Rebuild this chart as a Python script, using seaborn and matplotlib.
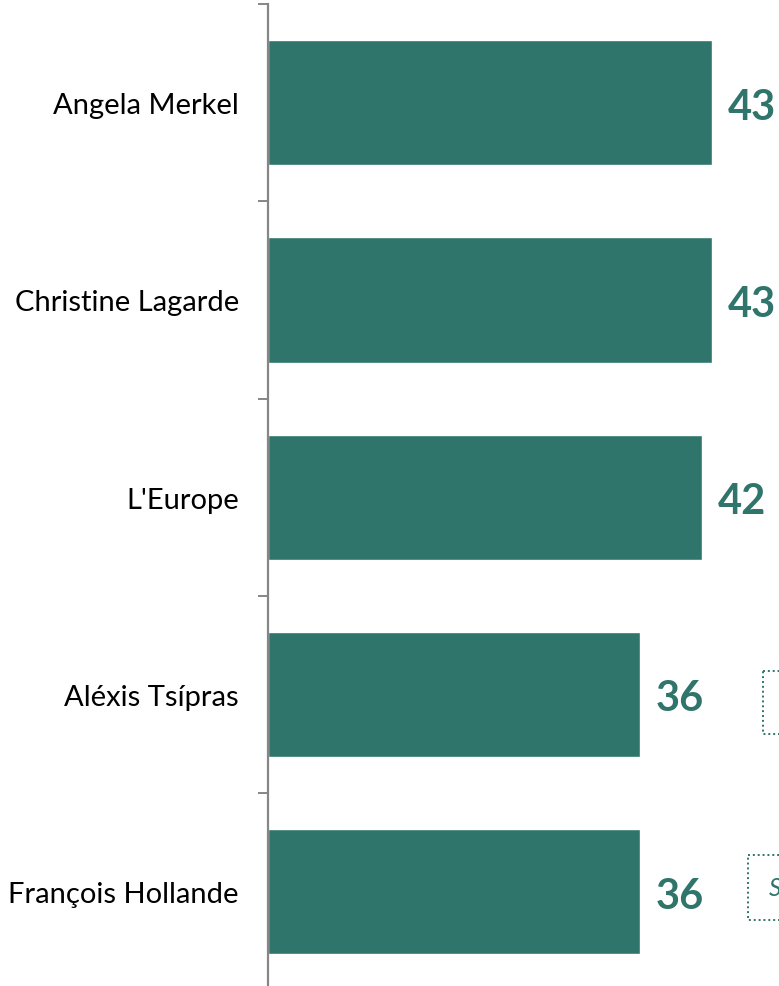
import numpy as np
import pandas as pd
import matplotlib
matplotlib.use("Agg")
import matplotlib.pyplot as plt
import seaborn as sns
from matplotlib.patches import Rectangle

# data
names = ["Angela Merkel", "Christine Lagarde", "L'Europe", "Aléxis Tsípras", "François Hollande"]
scores = [43, 43, 42, 36, 36]

df = pd.DataFrame({"name": names, "score": scores})

teal = "#2F756B"
grey = "#868686"

sns.set_theme(style="white")
plt.rcParams["font.family"] = ["Lato", "DejaVu Sans"]

fig = plt.figure(figsize=(7.79, 9.87), dpi=100)
ax = fig.add_axes([268 / 779, 1 - 991.5 / 987, 1 - 268 / 779, 986.5 / 987])

sns.barplot(data=df, x="score", y="name", color=teal, width=0.635,
            saturation=1, ax=ax, orient="h")

ax.set_xlim(0, (779 - 268) / 10.33)
ax.set_ylim(len(names) - 0.5, -0.5)

for s in ["top", "right", "bottom"]:
    ax.spines[s].set_visible(False)
ax.spines["left"].set_color(grey)
ax.spines["left"].set_linewidth(1.6)
ax.set_xticks([])
ax.set_xlabel("")
ax.set_ylabel("")

# ticks at category boundaries, labels at centres
ax.set_yticks(np.arange(len(names) + 1) - 0.5)
ax.set_yticklabels([])
ax.set_yticks(np.arange(len(names)), minor=True)
ax.set_yticklabels(names, minor=True, fontsize=21, color="black")
ax.tick_params(axis="y", which="major", left=True, length=7.5, width=1.4, color=grey)
ax.tick_params(axis="y", which="minor", left=False, length=0, pad=21)

# value labels
for i, v in enumerate(scores):
    ax.text(v + 1.55, i + 0.02, str(v), ha="left", va="center",
            fontsize=30, fontweight="bold", color=teal)

# dotted note boxes cut off at the right edge
ax.add_patch(Rectangle((47.9, 2.88), 5, 0.32, fill=False, ls=(0, (1, 1.5)),
                       lw=1.4, ec=teal, clip_on=False))
ax.add_patch(Rectangle((46.5, 3.815), 6, 0.33, fill=False, ls=(0, (1, 1.5)),
                       lw=1.4, ec=teal, clip_on=False))
ax.text(48.5, 3.98, "Sans opinion", ha="left", va="center", fontsize=18,
        style="italic", color=teal)

fig.savefig("out.png", dpi=100)
